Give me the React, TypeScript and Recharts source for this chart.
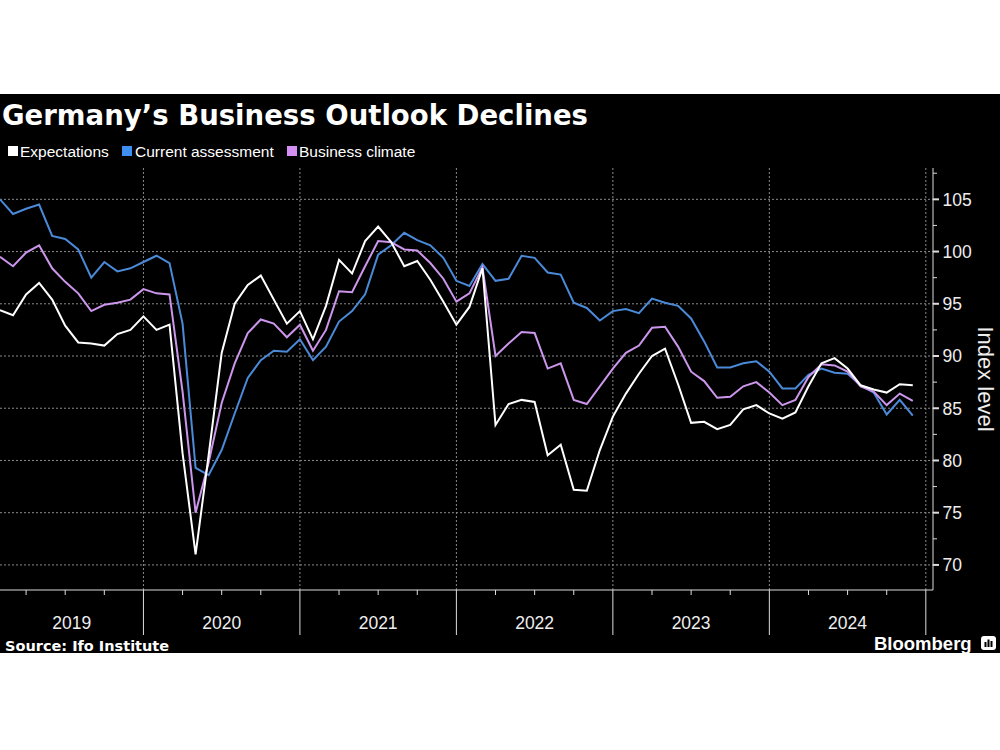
import { CartesianGrid, Line, LineChart, XAxis, YAxis } from 'recharts'

// Monthly Ifo readings, Jan 2019 .. Nov 2024
const startYear = 2019
const monthNames = ['Jan', 'Feb', 'Mar', 'Apr', 'May', 'Jun', 'Jul', 'Aug', 'Sep', 'Oct', 'Nov', 'Dec']

const expectations = [
  94.4, 93.9, 95.9, 97.0, 95.4, 92.9, 91.3, 91.2, 91.0, 92.1, 92.5, 93.8,
  92.5, 93.0, 80.7, 71.0, 80.5, 90.3, 95.0, 96.8, 97.7, 95.4, 93.1, 94.3,
  91.6, 94.8, 99.2, 97.9, 101.0, 102.4, 100.9, 98.6, 99.1, 97.3, 95.2, 93.0,
  94.7, 98.4, 83.4, 85.4, 85.8, 85.6, 80.5, 81.5, 77.2, 77.1, 81.0, 84.2,
  86.4, 88.3, 90.0, 90.7, 87.3, 83.6, 83.7, 83.0, 83.4, 84.9, 85.3, 84.5,
  84.0, 84.6, 87.1, 89.3, 89.8, 88.8, 87.2, 86.8, 86.5, 87.3, 87.2,
]

const currentAssessment = [
  105.0, 103.6, 104.1, 104.5, 101.5, 101.2, 100.2, 97.5, 99.0, 98.1, 98.4, 99.0,
  99.6, 98.9, 93.1, 79.3, 78.6, 81.0, 84.5, 87.9, 89.6, 90.5, 90.4, 91.6,
  89.6, 90.9, 93.3, 94.3, 95.9, 99.7, 100.6, 101.8, 101.1, 100.6, 99.4, 97.2,
  96.7, 98.8, 97.2, 97.4, 99.6, 99.4, 98.0, 97.8, 95.1, 94.6, 93.4, 94.3,
  94.5, 94.1, 95.5, 95.1, 94.8, 93.6, 91.4, 88.9, 88.9, 89.3, 89.5, 88.5,
  86.9, 86.9, 88.2, 88.8, 88.4, 88.3, 87.2, 86.5, 84.4, 85.8, 84.3,
]

const businessClimate = [
  99.5, 98.6, 99.9, 100.6, 98.4, 97.1, 96.0, 94.3, 94.9, 95.1, 95.4, 96.4,
  96.0, 95.9, 86.6, 75.0, 79.8, 85.5, 89.3, 92.2, 93.5, 93.1, 91.8, 93.0,
  90.5, 92.5, 96.2, 96.1, 98.6, 101.0, 100.9, 100.2, 100.1, 98.9, 97.4, 95.2,
  96.0, 98.5, 90.0, 91.2, 92.3, 92.2, 88.8, 89.3, 85.8, 85.4, 87.1, 88.8,
  90.3, 91.0, 92.7, 92.8, 90.9, 88.5, 87.6, 86.0, 86.1, 87.1, 87.5, 86.5,
  85.3, 85.8, 88.0, 89.2, 89.1, 88.5, 87.1, 86.6, 85.3, 86.4, 85.7,
]

const yearLabels = ['2019', '2020', '2021', '2022', '2023', '2024']
const yTicks = [70, 72.5, 75, 77.5, 80, 82.5, 85, 87.5, 90, 92.5, 95, 97.5, 100, 102.5, 105, 107.5]
const gridValues = [70, 75, 80, 85, 90, 95, 100, 105]

const months = expectations.map(
  (_, i) => `${monthNames[i % 12]} ${startYear + Math.floor(i / 12)}`
)

const data = months.map((month, i) => ({
  idx: i,
  month,
  expectations: expectations[i],
  current: currentAssessment[i],
  climate: businessClimate[i],
}))

// December points sit on the year boundary
const yearEnds = yearLabels.map((_, k) => 12 * k + 11)
const yearCenters = yearLabels.map((_, k) => (Math.max(0, 12 * k - 1) + 12 * k + 11) / 2)
const quarterTicks = data.filter((d) => d.idx % 3 === 2).map((d) => d.idx).concat([71])
const xTicks = Array.from(new Set([...quarterTicks, ...yearCenters])).sort((a, b) => a - b)

const WHITE = '#ffffff'
const BLUE = '#4a8ad9'
const PURPLE = '#cc96ec'
const AXIS = '#dcdcdc'
const SANS = '"Liberation Sans", Arial, sans-serif'
const BOLD = '"DejaVu Sans", sans-serif'

function XTick({ x, y, payload }: any) {
  const v = payload.value as number
  const label = yearCenters.indexOf(v)
  return (
    <g>
      {v % 3 === 2 && (
        <line
          x1={x}
          x2={x}
          y1={y}
          y2={v % 12 === 11 ? y + 45 : y + 5}
          stroke={AXIS}
          strokeWidth={1}
        />
      )}
      {label >= 0 && (
        <text x={x} y={y + 39} textAnchor="middle" fill="#eeeeee" fontSize={17.5} fontFamily={SANS}>
          {yearLabels[label]}
        </text>
      )}
    </g>
  )
}

function YTick({ x, y, payload }: any) {
  const v = payload.value as number
  const major = v % 5 === 0
  return (
    <g>
      <line x1={x} x2={x + (major ? 6 : 4)} y1={y} y2={y} stroke={AXIS} strokeWidth={major ? 2 : 1} />
      {major && (
        <text x={x + 9.5} y={y} dy="0.36em" fill="#eeeeee" fontSize={17.5} fontFamily={SANS}>
          {v}
        </text>
      )}
    </g>
  )
}

export default function App() {
  return (
    <div style={{ position: 'absolute', left: 0, top: 0, width: 1000, height: 750, background: '#fff', overflow: 'hidden' }}>
      <div style={{ position: 'absolute', left: 0, top: 94, width: 1000, height: 559, background: '#000' }} />

      <div style={{ position: 'absolute', left: 0, top: 168 }}>
        <LineChart width={1000} height={472} data={data} margin={{ top: 0, right: 0, bottom: 0, left: 0 }}>
          <CartesianGrid
            stroke="#8a8a8a"
            strokeDasharray="2 2"
            horizontalValues={gridValues}
            verticalValues={yearEnds}
          />
          <XAxis
            dataKey="idx"
            type="number"
            domain={[0, 71.55]}
            ticks={xTicks}
            interval={0}
            height={50}
            tickSize={0}
            tickMargin={0}
            axisLine={{ stroke: AXIS }}
            tickLine={false}
            tick={<XTick />}
            allowDataOverflow
          />
          <YAxis
            orientation="right"
            type="number"
            domain={[67.6, 108]}
            ticks={yTicks}
            interval={0}
            width={67}
            tickSize={0}
            tickMargin={0}
            axisLine={{ stroke: AXIS }}
            tickLine={false}
            tick={<YTick />}
            allowDataOverflow
          />
          <Line dataKey="current" stroke={BLUE} strokeWidth={2} dot={false} type="linear" isAnimationActive={false} />
          <Line dataKey="climate" stroke={PURPLE} strokeWidth={2} dot={false} type="linear" isAnimationActive={false} />
          <Line dataKey="expectations" stroke={WHITE} strokeWidth={2} dot={false} type="linear" isAnimationActive={false} />
        </LineChart>
      </div>

      <svg width={1000} height={750} style={{ position: 'absolute', left: 0, top: 0, pointerEvents: 'none' }}>
        <text x={2} y={125} fill={WHITE} fontFamily={BOLD} fontWeight="bold" fontSize={29} textLength={586} lengthAdjust="spacingAndGlyphs">
          Germany’s Business Outlook Declines
        </text>

        <rect x={8} y={146} width={10} height={10} fill={WHITE} />
        <text x={20} y={157} fill={WHITE} fontFamily={SANS} fontSize={15.5}>Expectations</text>
        <rect x={122} y={146} width={10} height={10} fill="#3d8ef0" />
        <text x={135} y={157} fill={WHITE} fontFamily={SANS} fontSize={15.5}>Current assessment</text>
        <rect x={287} y={146} width={10} height={10} fill="#d48ff5" />
        <text x={299} y={157} fill={WHITE} fontFamily={SANS} fontSize={15.5}>Business climate</text>

        <text transform="translate(978, 379) rotate(90)" textAnchor="middle" fill="#eeeeee" fontFamily={SANS} fontSize={22}>
          Index level
        </text>

        <text x={5} y={651} fill={WHITE} fontFamily={BOLD} fontWeight="bold" fontSize={14.5}>
          Source: Ifo Institute
        </text>
        <text x={874} y={649.5} fill={WHITE} fontFamily={SANS} fontWeight="bold" fontSize={18.5}>
          Bloomberg
        </text>
        <rect x={981} y={636} width={15} height={14} rx={3} fill={WHITE} />
        <rect x={984.5} y={642} width={2} height={5} fill="#000" />
        <rect x={987.5} y={639.5} width={2} height={7.5} fill="#000" />
        <rect x={990.5} y={641} width={2} height={6} fill="#000" />
      </svg>
    </div>
  )
}
